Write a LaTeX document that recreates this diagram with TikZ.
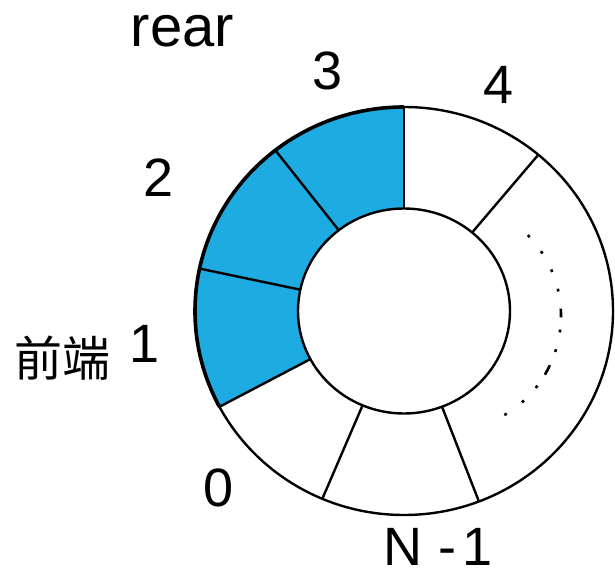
\documentclass[tikz,border=0pt]{standalone}
\usepackage{fontspec}
\setmainfont{Liberation Sans}
\newfontfamily\cjkfont{Noto Sans CJK SC}
\definecolor{segblue}{RGB}{29,171,226}
\begin{document}
\begin{tikzpicture}[x=1pt,y=1pt,
  ring/.style={line width=2.4pt, draw=black},
  thickrim/.style={line width=3.6pt, draw=black},
  dotmark/.style={line width=2.6pt, draw=black},
  lbl/.style={inner sep=0pt, anchor=base, font=\fontsize{54}{60}\selectfont},
  wordlbl/.style={inner sep=0pt, anchor=base, font=\fontsize{58}{64}\selectfont},
  cjklbl/.style={inner sep=0pt, anchor=center, font=\cjkfont\fontsize{48}{52}\selectfont}
 ]
\useasboundingbox (0,0) rectangle (615,573);
\begin{scope}[shift={(404,262)}]
 \fill[segblue] (90:209 and 204) arc[start angle=90,end angle=208,x radius=209,y radius=204]
   -- (208:106 and 102.5) arc[start angle=208,end angle=90,x radius=106,y radius=102.5] -- cycle;
 \draw[ring] (0,0) ellipse[x radius=209, y radius=204];
 \draw[thickrim] (90:209 and 204) arc[start angle=90,end angle=208,x radius=209,y radius=204];
 \draw[ring] (0,0) ellipse[x radius=106, y radius=102.5];
 \foreach \a in {50,90,128,168,208,247,291}
   \draw[ring] (\a:106 and 102.5) -- (\a:209 and 204);
\end{scope}
\begin{scope}[shift={(446,257)}]
 \foreach \a/\h in {44/0.7, 33.6/0.7, 23.2/0.7, 13/0.7, 1.5/2.2, -7.5/0.7, -17.5/0.7, -28/2.7, -38/0.7, -48/0.7, -58.8/0.7}
   \draw[dotmark] ({\a+\h}:115) arc[start angle={\a+\h}, end angle={\a-\h}, radius=115];
\end{scope}
\node[wordlbl] (rear) at (182.5,526) {rear};
\node[lbl] (n3) at (328,483) {3};
\node[lbl] (n4) at (499,469) {4};
\node[lbl] (n2) at (159,376) {2};
\node[lbl] (n1) at (145,210) {1};
\node[lbl] (n0) at (219,67) {0};
\node[lbl] (nN) at (438,8) {N\hspace{16pt}-\hspace{6pt}1};
\node[cjklbl] (front) at (62,214.5) {前端};
\end{tikzpicture}
\end{document}
